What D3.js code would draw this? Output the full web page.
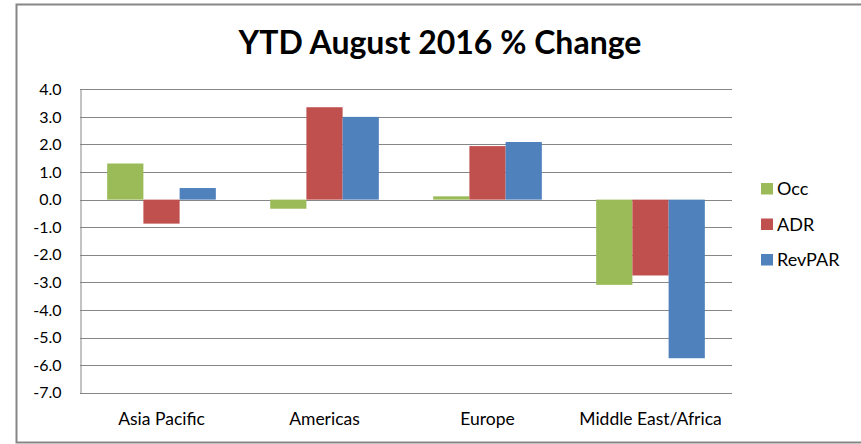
<!DOCTYPE html>
<html lang="en">
<head>
<meta charset="utf-8">
<title>YTD August 2016 % Change</title>
<script src="https://d3js.org/d3.v7.min.js"></script>
<style>
  body { margin: 0; background: #fff; }
  svg text { font-family: Lato, "Open Sans", sans-serif; fill: #000; }
</style>
</head>
<body>
<div id="chart"></div>
<script>
// data
var regions = ["Asia Pacific", "Americas", "Europe", "Middle East/Africa"];
var seriesNames = ["Occ", "ADR", "RevPAR"];
var occ = [1.31, -0.33, 0.12, -3.09];
var adr = [-0.87, 3.35, 1.94, -2.75];
var revpar = [0.42, 3.00, 2.09, -5.75];
var yTicks = [4, 3, 2, 1, 0, -1, -2, -3, -4, -5, -6, -7];
var colors = ["#9BBB59", "#C0504D", "#4F81BD"];

var W = 861, H = 444;
var plot = {left: 80, right: 732, top: 89.3, bottom: 392.7};

var svg = d3.select("#chart").append("svg")
    .attr("width", W)
    .attr("height", H);

// chart border
svg.append("rect")
    .attr("x", 16.5).attr("y", 4.5)
    .attr("width", 900).attr("height", 438)
    .attr("fill", "none")
    .attr("stroke", "#868686")
    .attr("stroke-width", 2);

// title
svg.append("text")
    .attr("x", 440).attr("y", 54)
    .attr("text-anchor", "middle")
    .style("font-size", "32px")
    .style("font-weight", "bold")
    .text("YTD August 2016 % Change");

var x0 = d3.scaleBand()
    .domain(regions)
    .range([plot.left, plot.right])
    .paddingInner(0).paddingOuter(0);

var x1 = d3.scaleBand()
    .domain(seriesNames)
    .range([0, x0.bandwidth()])
    .paddingInner(0)
    .paddingOuter(0.75);

var y = d3.scaleLinear()
    .domain([-7, 4])
    .range([plot.bottom, plot.top]);

// gridlines
svg.append("g").selectAll("line")
    .data(yTicks)
    .join("line")
    .attr("x1", plot.left).attr("x2", plot.right)
    .attr("y1", function(d){ return Math.round(y(d)) + 0.5; })
    .attr("y2", function(d){ return Math.round(y(d)) + 0.5; })
    .attr("stroke", "#868686")
    .attr("stroke-width", 1);

// y axis
var yAxis = svg.append("g")
    .attr("transform", "translate(" + (plot.left + 0.5) + ",0)")
    .call(d3.axisLeft(y).tickValues(yTicks).tickSize(0).tickPadding(19));
yAxis.select(".domain").attr("stroke", "#868686");
yAxis.selectAll("text").style("font-size", "16px").attr("fill", "#000")
    .text(function(d){ return d3.format(".1f")(d).replace("−", "-"); });

// bars
var series = [occ, adr, revpar];
series.forEach(function(vals, si) {
  svg.append("g").selectAll("rect")
    .data(vals)
    .join("rect")
    .attr("x", function(d, i){ return x0(regions[i]) + x1(seriesNames[si]); })
    .attr("width", x1.bandwidth())
    .attr("y", function(d){ return y(Math.max(0, d)); })
    .attr("height", function(d){ return Math.abs(y(d) - y(0)); })
    .attr("fill", colors[si]);
});

// x labels
svg.append("g").selectAll("text")
    .data(regions)
    .join("text")
    .attr("x", function(d){ return x0(d) + x0.bandwidth() / 2; })
    .attr("y", 425)
    .attr("text-anchor", "middle")
    .style("font-size", "17.5px")
    .text(function(d){ return d; });

// legend
var legend = svg.append("g").selectAll("g")
    .data(seriesNames)
    .join("g")
    .attr("transform", function(d, i){ return "translate(761," + (183 + i * 35.5) + ")"; });
legend.append("rect")
    .attr("width", 12).attr("height", 11.5)
    .attr("fill", function(d, i){ return colors[i]; });
legend.append("text")
    .attr("x", 16).attr("y", 12)
    .style("font-size", "18px")
    .text(function(d){ return d; });
</script>
</body>
</html>
